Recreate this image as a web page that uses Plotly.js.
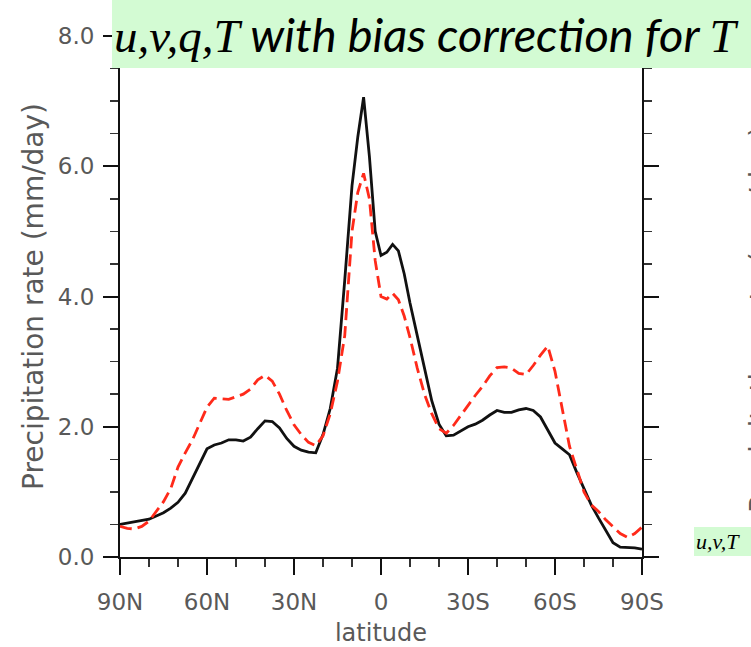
<!DOCTYPE html>
<html>
<head>
<meta charset="utf-8">
<script src="https://cdn.plot.ly/plotly-3.0.1.min.js"></script>
<style>html,body{margin:0;padding:0;background:#fff;}#chart{width:751px;height:647px;}</style>
</head>
<body>
<div id="chart"></div>
<script>
// latitude in degrees north (negative = south)
const latitude = [90,87.5,85,82.5,80,77.5,75,72.5,70,67.5,65,62.5,60,57.5,55,52.5,50,47.5,45,42.5,40,37.5,35,32.5,30,27.5,25,22.5,20,17.5,15,12.5,10,8,6,4,2,0,-2,-4,-6,-8,-10,-12.5,-15,-17.5,-20,-22.5,-25,-27.5,-30,-32.5,-35,-37.5,-40,-42.5,-45,-47.5,-50,-52.5,-55,-57.5,-60,-62.5,-65,-67.5,-70,-72.5,-75,-77.5,-80,-82.5,-85,-87.5,-90];
// black solid line
const precipBlack = [0.50,0.52,0.54,0.56,0.58,0.63,0.68,0.75,0.84,0.98,1.20,1.42,1.66,1.72,1.75,1.80,1.80,1.78,1.84,1.97,2.09,2.08,1.98,1.82,1.70,1.64,1.61,1.60,1.88,2.28,2.90,4.25,5.70,6.45,7.06,6.15,5.00,4.63,4.68,4.80,4.70,4.35,3.90,3.40,2.88,2.40,2.04,1.86,1.87,1.93,2.00,2.04,2.10,2.18,2.25,2.22,2.22,2.26,2.28,2.25,2.15,1.95,1.75,1.66,1.57,1.30,1.05,0.80,0.60,0.40,0.22,0.15,0.15,0.14,0.12];
// red dashed line
const precipRed = [0.47,0.44,0.43,0.47,0.55,0.70,0.85,1.05,1.38,1.60,1.80,2.05,2.30,2.44,2.43,2.42,2.46,2.50,2.58,2.72,2.79,2.70,2.50,2.25,2.03,1.88,1.76,1.71,1.86,2.20,2.70,3.40,5.00,5.60,5.89,5.50,4.55,4.00,3.96,4.05,3.95,3.70,3.37,2.90,2.50,2.20,1.97,1.90,2.02,2.18,2.32,2.48,2.62,2.78,2.91,2.92,2.90,2.82,2.80,2.94,3.10,3.24,2.85,2.25,1.70,1.35,1.00,0.80,0.70,0.57,0.46,0.36,0.30,0.36,0.46];
const latTickVals = [90,60,30,0,-30,-60,-90];
const latTickText = ['90N','60N','30N','0','30S','60S','90S'];
const yTickVals = [0,2,4,6,8];
const yTickText = ['0.0','2.0','4.0','6.0','8.0'];
const titleText = '<i><span style="font-family:Liberation Serif">u,v,q,T</span> with bias correction for <span style="font-family:Liberation Serif">T</span></i>';
const insetText = '<i>u,v,T</i>';
const yTitle = 'Precipitation rate (mm/day)';
const xTitle = 'latitude';

const gray = '#595959';
const tickFont = {family: 'DejaVu Sans', size: 23, color: gray};

const traces = [
  {x: latitude, y: precipBlack, type: 'scatter', mode: 'lines',
   line: {color: '#111111', width: 2.8}, showlegend: false, hoverinfo: 'skip'},
  {x: latitude, y: precipRed, type: 'scatter', mode: 'lines',
   line: {color: '#ff2a1a', width: 2.8, dash: '12px,6px'}, showlegend: false, hoverinfo: 'skip'}
];

const layout = {
  width: 751, height: 647,
  margin: {l: 120, r: 109, t: 36, b: 90, pad: 0},
  paper_bgcolor: '#ffffff', plot_bgcolor: '#ffffff',
  showlegend: false,
  xaxis: {
    range: [90, -90], tickmode: 'array', tickvals: latTickVals, ticktext: latTickText,
    ticks: 'outside', ticklen: 16, tickwidth: 2, tickcolor: '#111',
    minor: {tickmode: 'linear', tick0: 0, dtick: 10, ticks: 'outside', ticklen: 8, tickwidth: 1.5, tickcolor: '#333'},
    showline: true, linecolor: '#111', linewidth: 2, mirror: false,
    showgrid: false, zeroline: false, tickfont: tickFont, ticklabelstandoff: 7,
    title: {text: xTitle, font: {family: 'DejaVu Sans', size: 24, color: gray}, standoff: 11}
  },
  yaxis: {
    range: [0, 8], tickmode: 'array', tickvals: yTickVals, ticktext: yTickText,
    ticks: 'outside', ticklen: 15, tickwidth: 2, tickcolor: '#111',
    minor: {tickmode: 'linear', tick0: 0, dtick: 0.5, ticks: 'outside', ticklen: 8, tickwidth: 1.5, tickcolor: '#333'},
    showline: true, linecolor: '#111', linewidth: 2, mirror: 'ticks',
    showgrid: false, zeroline: false, tickfont: tickFont, ticklabelstandoff: 4,
    title: {text: yTitle, font: {family: 'DejaVu Sans', size: 28, color: gray}, standoff: 6}
  },
  shapes: [
    {type: 'rect', xref: 'paper', yref: 'paper', x0: -0.0153, x1: 1.22, y0: 0.9386, y1: 1.08,
     fillcolor: '#d3fbd3', line: {width: 0}, layer: 'above'},
    {type: 'rect', xref: 'paper', yref: 'paper', x0: (694-120)/522, x1: 1.22, y0: (557-556)/521, y1: (557-527)/521,
     fillcolor: '#d3fbd3', line: {width: 0}, layer: 'above'}
  ],
  annotations: [
    {xref: 'paper', yref: 'paper', x: (112-120)/522, y: (557-34)/521, xanchor: 'left', yanchor: 'middle',
     text: titleText, showarrow: false, font: {family: 'Lato', size: 47, color: '#000'}},
    {xref: 'paper', yref: 'paper', x: (694-120)/522, y: (557-541)/521, xanchor: 'left', yanchor: 'middle',
     text: insetText, showarrow: false, font: {family: 'Liberation Serif', size: 22, color: '#000'}},
    {xref: 'paper', yref: 'paper', x: (760-120)/522, y: (557-320)/521, xanchor: 'center', yanchor: 'middle',
     text: yTitle, textangle: -90, showarrow: false, font: {family: 'DejaVu Sans', size: 28, color: gray}}
  ]
};

Plotly.newPlot('chart', traces, layout, {displayModeBar: false, staticPlot: true});
</script>
</body>
</html>
